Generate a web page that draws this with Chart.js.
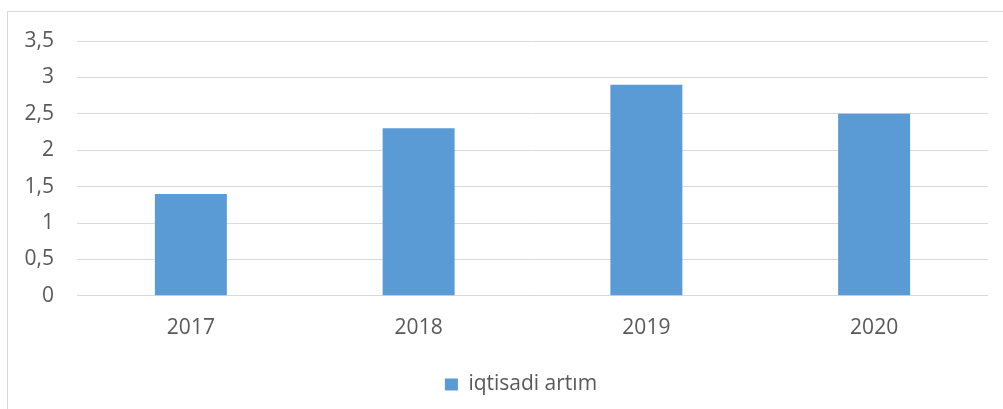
<!DOCTYPE html>
<html>
<head>
<meta charset="utf-8">
<script src="https://cdn.jsdelivr.net/npm/chart.js@4/dist/chart.umd.min.js"></script>
<style>
    html, body { margin: 0; padding: 0; background: #fff; overflow: hidden; }
    #frame {
        position: absolute; left: 7px; top: 11px; width: 1100px; height: 500px;
        border: 1px solid #d9d9d9; box-sizing: border-box;
    }
    #wrap { position: absolute; left: 0; top: 0; width: 1003px; height: 409px; }
</style>
</head>
<body>
<div id="frame"></div>
<div id="wrap"><canvas id="growthChart" width="1003" height="409"></canvas></div>
<script>
const years = ["2017", "2018", "2019", "2020"];
const growthValues = [1.4, 2.3, 2.9, 2.5];
const seriesName = "iqtisadi artım";

const textColor = "#595959";
const gridColor = "#d9d9d9";
const barColor = "#5b9bd5";
const fontFamily = "'Open Sans', Lato, sans-serif";

// legend in the original is centred on the (wider, cropped) frame, so nudge it right
const legendShift = {
    id: "legendShift",
    afterLayout(chart) {
        if (chart.legend) {
            chart.legend.left += 27;
            chart.legend.right += 27;
        }
    }
};

const ctx = document.getElementById("growthChart").getContext("2d");

new Chart(ctx, {
    type: "bar",
    data: {
        labels: years,
        datasets: [{
            label: seriesName,
            data: growthValues,
            backgroundColor: barColor,
            categoryPercentage: 1,
            barPercentage: 0.316
        }]
    },
    options: {
        responsive: false,
        animation: false,
        layout: { padding: { left: 0, right: 15, top: 41, bottom: 4 } },
        plugins: {
            tooltip: { enabled: false },
            legend: {
                position: "bottom",
                labels: {
                    color: textColor,
                    font: { size: 21, family: fontFamily },
                    boxWidth: 13,
                    boxHeight: 12,
                    padding: 13
                }
            }
        },
        scales: {
            x: {
                grid: { display: false, drawTicks: false },
                border: { display: false },
                ticks: {
                    color: textColor,
                    font: { size: 21, family: fontFamily },
                    padding: 20
                }
            },
            y: {
                min: 0,
                max: 3.5,
                afterFit: scale => { scale.width = 77; },
                grid: { color: gridColor, lineWidth: 1, drawTicks: false },
                border: { display: false },
                ticks: {
                    stepSize: 0.5,
                    color: textColor,
                    font: { size: 21, family: fontFamily },
                    padding: 23,
                    callback: v => v.toString().replace(".", ",")
                }
            }
        }
    },
    plugins: [legendShift]
});
</script>
</body>
</html>
